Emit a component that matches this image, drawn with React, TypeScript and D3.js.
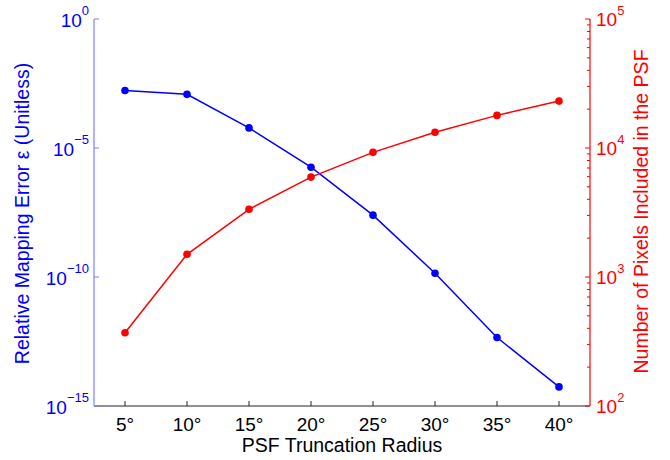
import React from 'react';
import * as d3 from 'd3';

// PSF truncation radius (degrees)
const radii = [5, 10, 15, 20, 25, 30, 35, 40];
// relative mapping error (left axis, blue)
const mappingError = [1.7e-3, 1.2e-3, 6e-5, 1.8e-6, 2.5e-8, 1.4e-10, 4.5e-13, 5.5e-15];
// number of pixels included in the PSF (right axis, red)
const pixelCount = [370, 1500, 3350, 5950, 9250, 13250, 17900, 23100];

const leftExponents = [0, -5, -10, -15];
const rightExponents = [2, 3, 4, 5];

const W = 670;
const H = 460;
const margin = { top: 19, right: 80, bottom: 54, left: 94 };

const fmtExp = (e: number) => (e < 0 ? '\u2212' + Math.abs(e) : String(e));

const App = () => {
  const x = d3
    .scaleLinear()
    .domain([2.5, 42.5])
    .range([margin.left, W - margin.right]);
  const yL = d3
    .scaleLog()
    .domain([1e-15, 1])
    .range([H - margin.bottom, margin.top]);
  const yR = d3
    .scaleLog()
    .domain([1e2, 1e5])
    .range([H - margin.bottom, margin.top]);

  const x0 = x.range()[0];
  const x1 = x.range()[1];
  const yBot = yL.range()[0];
  const yTop = yL.range()[1];

  const blueLine = d3
    .line<number>()
    .x((_, i) => x(radii[i]))
    .y(d => yL(d));
  const redLine = d3
    .line<number>()
    .x((_, i) => x(radii[i]))
    .y(d => yR(d));

  // minor ticks on the right log axis
  const rightMinor = yR.ticks().filter(v => {
    const m = v / Math.pow(10, Math.floor(Math.log10(v) + 1e-9));
    return Math.abs(m - 1) > 1e-6;
  });

  const font = 'Liberation Sans, Arial, Helvetica, sans-serif';

  return (
    <svg
      width={W}
      height={H}
      style={{ position: 'absolute', left: 0, top: 0, background: '#fff' }}
      fontFamily={font}
    >
      {/* bottom axis */}
      <line x1={x0} x2={x1} y1={yBot} y2={yBot} stroke="#222" strokeWidth={1} />
      {radii.map(r => (
        <g key={r}>
          <line x1={x(r)} x2={x(r)} y1={yBot} y2={yBot - 5} stroke="#222" />
          <text x={x(r)} y={yBot + 25} textAnchor="middle" fontSize={19} fill="#000">
            {r}°
          </text>
        </g>
      ))}
      <text x={(x0 + x1) / 2} y={yBot + 46} textAnchor="middle" fontSize={19.5} fill="#000">
        PSF Truncation Radius
      </text>

      {/* left axis */}
      <line x1={x0} x2={x0} y1={yTop} y2={yBot} stroke="#7f7fff" strokeWidth={1.2} />
      {leftExponents.map(e => (
        <g key={e}>
          <line x1={x0} x2={x0 + 5} y1={yL(Math.pow(10, e))} y2={yL(Math.pow(10, e))} stroke="#7f7fff" />
          <text x={x0 - 5} y={yL(Math.pow(10, e)) + 8} textAnchor="end" fontSize={19} fill="#0000ff">
            10
            <tspan dy={-12} fontSize={13}>
              {fmtExp(e)}
            </tspan>
          </text>
        </g>
      ))}
      <text
        transform={`translate(29,${(yTop + yBot) / 2 + 1}) rotate(-90)`}
        textAnchor="middle"
        fontSize={19.5}
        fill="#0000ff"
      >
        Relative Mapping Error ε (Unitless)
      </text>

      {/* right axis */}
      <line x1={x1} x2={x1} y1={yTop} y2={yBot} stroke="#ff0000" strokeWidth={1.2} />
      {rightMinor.map((v, i) => (
        <line key={i} x1={x1} x2={x1 - 3} y1={yR(v)} y2={yR(v)} stroke="#ff0000" />
      ))}
      {rightExponents.map(e => (
        <g key={e}>
          <line x1={x1} x2={x1 - 5} y1={yR(Math.pow(10, e))} y2={yR(Math.pow(10, e))} stroke="#ff0000" />
          <text x={x1 + 6} y={yR(Math.pow(10, e)) + 7} textAnchor="start" fontSize={19} fill="#ff0000">
            10
            <tspan dy={-11} fontSize={13}>
              {fmtExp(e)}
            </tspan>
          </text>
        </g>
      ))}
      <text
        transform={`translate(648,${(yTop + yBot) / 2 - 1}) rotate(-90)`}
        textAnchor="middle"
        fontSize={19.5}
        fill="#ff0000"
      >
        Number of Pixels Included in the PSF
      </text>

      {/* blue series */}
      <path d={blueLine(mappingError) || ''} fill="none" stroke="#0000ff" strokeWidth={1.5} />
      {mappingError.map((v, i) => (
        <circle key={i} cx={x(radii[i])} cy={yL(v)} r={3.8} fill="#0000ff" />
      ))}

      {/* red series */}
      <path d={redLine(pixelCount) || ''} fill="none" stroke="#ff0000" strokeWidth={1.5} />
      {pixelCount.map((v, i) => (
        <circle key={i} cx={x(radii[i])} cy={yR(v)} r={3.8} fill="#ff0000" />
      ))}
    </svg>
  );
};

export default App;
